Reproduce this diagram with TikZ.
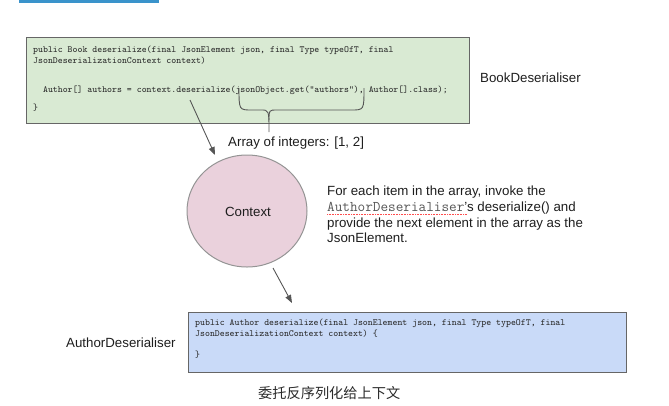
\documentclass[tikz,border=0pt]{standalone}
\usepackage{fontspec}
\setmainfont{Liberation Sans}
\newfontfamily\cjk{Noto Sans CJK SC}
\usetikzlibrary{arrows.meta,shapes.geometric}
\definecolor{topbar}{HTML}{3A93CB}
\definecolor{greenfill}{HTML}{D9EAD3}
\definecolor{bluefill}{HTML}{C9DAF8}
\definecolor{pinkfill}{HTML}{EAD1DC}
\definecolor{boxline}{HTML}{666666}
\definecolor{arrowgray}{HTML}{555555}
\definecolor{codegray}{HTML}{2A2A2A}
\definecolor{textdark}{HTML}{1E1E1E}
\tikzset{
  codebox/.style={draw=boxline, line width=1.3pt},
  codeline/.style={anchor=base west, inner sep=0pt, font=\ttfamily\fontsize{9.4}{10}\selectfont, text=codegray},
  label/.style={anchor=base west, inner sep=0pt, font=\fontsize{13.3}{15.7}\selectfont, text=textdark},
  conn/.style={draw=arrowgray, line width=0.9pt, -{Triangle[length=8pt,width=6pt]}},
  bracepath/.style={draw=arrowgray, line width=0.9pt}
}
\begin{document}
\begin{tikzpicture}[x=1pt,y=-1pt]
\useasboundingbox (0,0) rectangle (669,405);
% top blue bar
\fill[topbar] (19,0) rectangle (159,2.5);
% BookDeserialiser box
\node[codebox, fill=greenfill, minimum width=443pt, minimum height=86pt, anchor=north west, inner sep=0pt] (book) at (26,37) {};
\node[codeline] (b1) at (33,52.5) {public Book deserialize(final JsonElement json, final Type typeOfT, final};
\node[codeline] (b2) at (33,63.5) {JsonDeserializationContext context)};
\node[codeline] (b3) at (33,92.5) {\ \ Author[] authors = context.deserialize(jsonObject.get("authors"), Author[].class);};
\node[codeline] (b4) at (33,110) {\}};
\node[label] (bookname) at (480,82.5) {BookDeserialiser};
% brace
\coordinate (brL) at (239,88);
\coordinate (brR) at (364,88);
\coordinate (brTip) at (269,132);
\draw[bracepath] (brL) .. controls (239,110) and (239,110) .. (252,110) -- (261,110) .. controls (269,110) and (269,110) .. (brTip);
\draw[bracepath] (brR) .. controls (364,110) and (364,110) .. (351,110) -- (277,110) .. controls (269,110) and (269,110) .. (269,120);
\node[label] (arr) at (228,146.5) {Array of integers: [1, 2]};
% context ellipse
\node[ellipse, draw=boxline!70, line width=1pt, fill=pinkfill, minimum width=120pt, minimum height=112pt, inner sep=0pt] (ctx) at (247,211) {};
\node[label, anchor=base] (ctxlabel) at (248,216.5) {Context};
% arrows
\coordinate (a1s) at (190,100);
\coordinate (a1e) at (215,155);
\draw[conn] (a1s) -- (a1e);
\coordinate (a2s) at (273,268);
\coordinate (a2e) at (292,303);
\draw[conn] (a2s) -- (a2e);
% paragraph
\node[label] (p1) at (327,195.5) {For each item in the array, invoke the};
\node[label] (p2) at (327,211.5) {{\ttfamily\fontsize{14.8}{15.7}\selectfont\color{codegray!80}AuthorDeserialiser}'s deserialize() and};
\node[label] (p3) at (327,227.5) {provide the next element in the array as the};
\node[label] (p4) at (327,242.5) {JsonElement.};
\draw[red!70, densely dotted, line width=0.6pt] (327,214) -- (467,214);
% AuthorDeserialiser box
\node[codebox, fill=bluefill, minimum width=438pt, minimum height=60pt, anchor=north west, inner sep=0pt] (author) at (188,312) {};
\node[codeline] (c1) at (195,325.5) {public Author deserialize(final JsonElement json, final Type typeOfT, final};
\node[codeline] (c2) at (195,336) {JsonDeserializationContext context) \{};
\node[codeline] (c3) at (195,357) {\}};
\node[label] (authname) at (66,347.5) {AuthorDeserialiser};
% caption
\node[anchor=base west, inner sep=0pt, font=\cjk\fontsize{14.2}{16}\selectfont, text=codegray] (cap) at (258,398) {委托反序列化给上下文};
\end{tikzpicture}
\end{document}
